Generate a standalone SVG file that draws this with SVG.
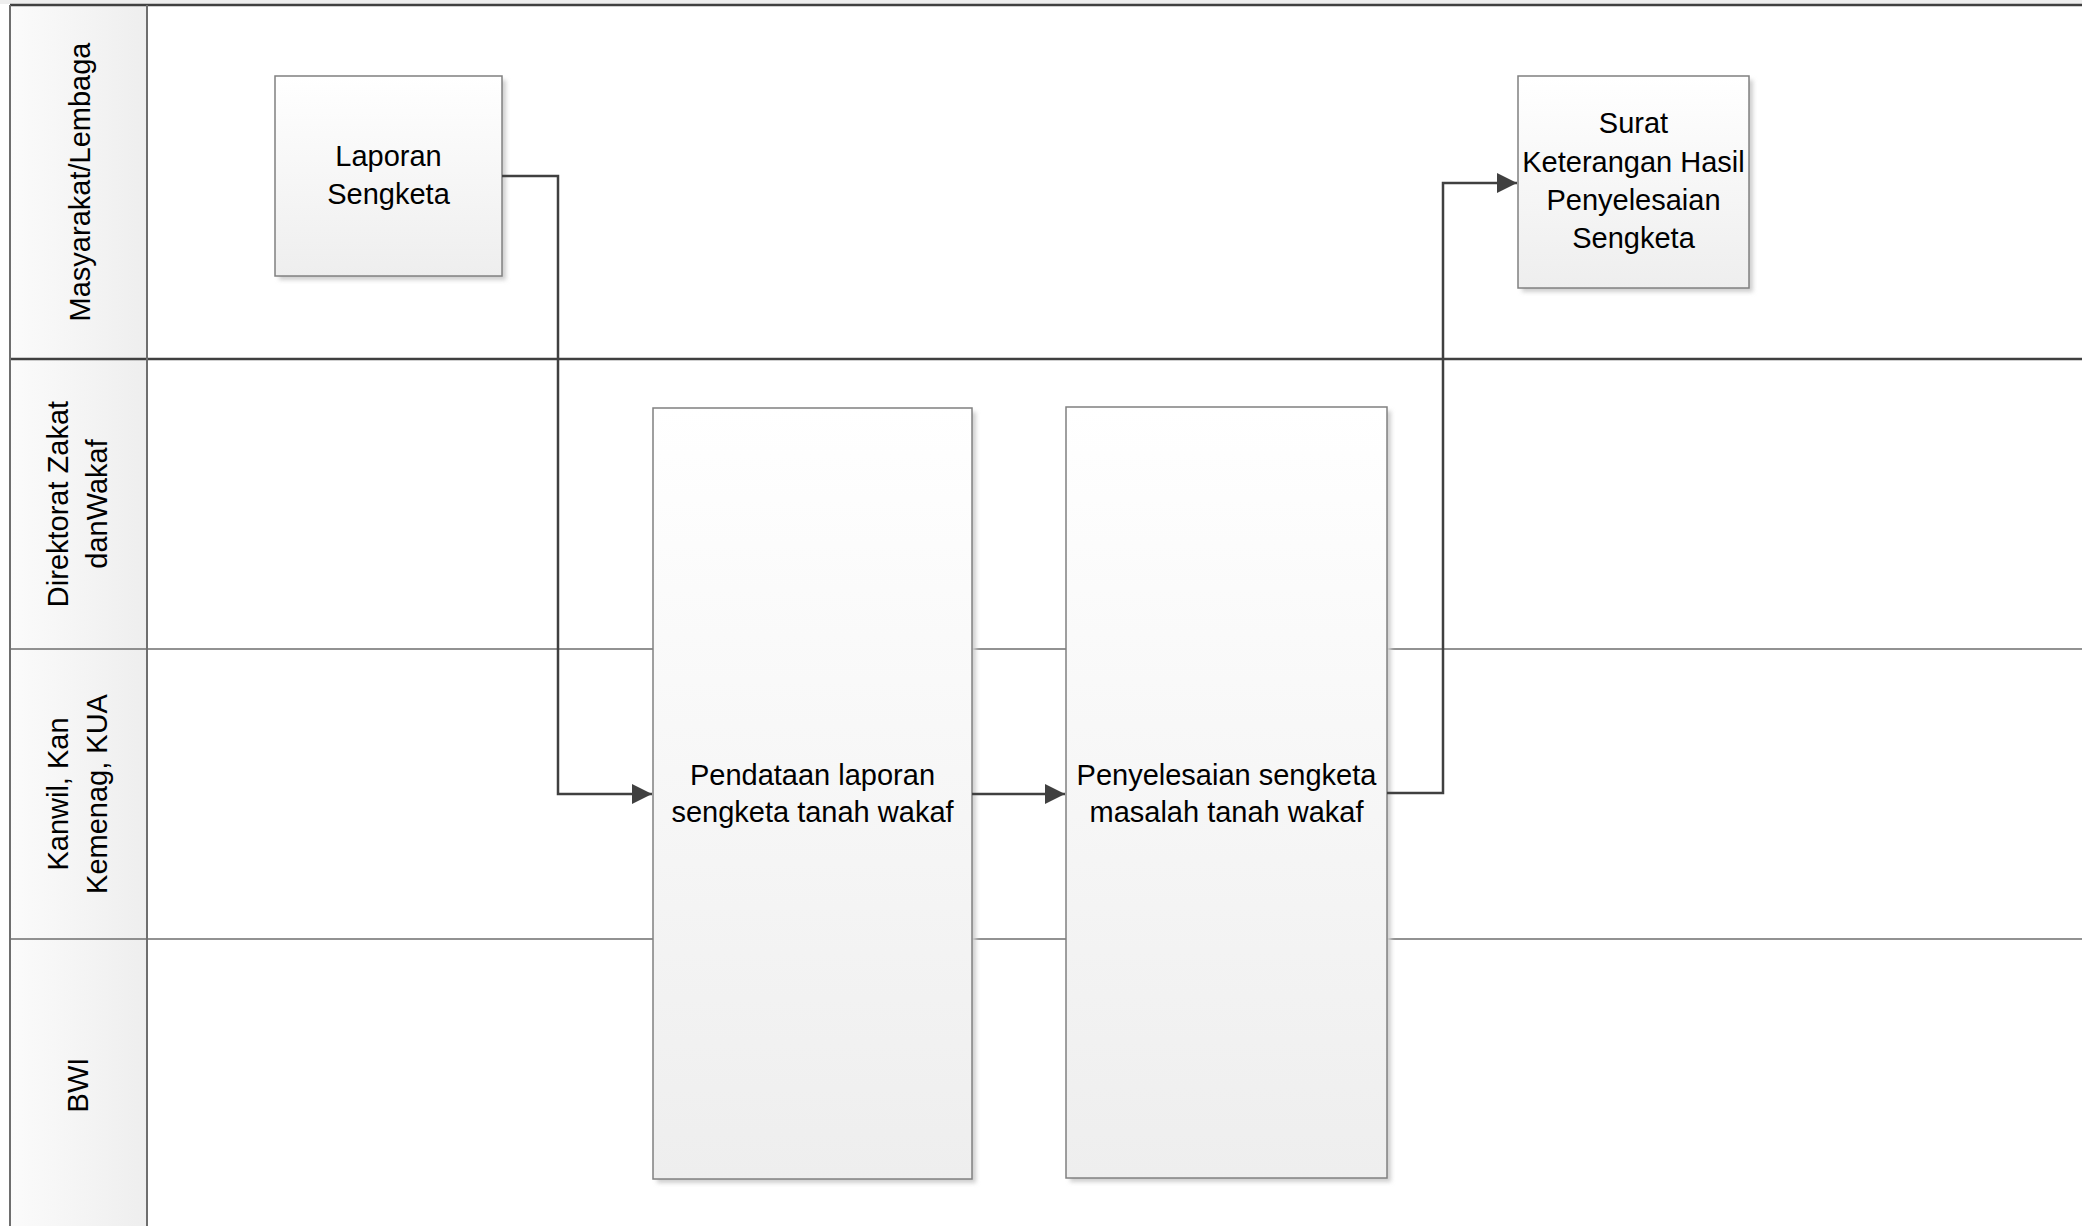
<svg xmlns="http://www.w3.org/2000/svg" width="2082" height="1226" viewBox="0 0 2082 1226">
<style>
  .lbl { font-family: "Liberation Sans", Arial, sans-serif; font-size: 29px; fill: #000; }
  .node { stroke: #808080; stroke-width: 1.5; fill: url(#nodeGrad); }
  .shadow { fill: #cfcfcf; filter: url(#blur); }
  .lane-major { stroke: #404040; stroke-width: 2.5; }
  .lane-minor { stroke: #6e6e6e; stroke-width: 1.3; }
  .conn { fill: none; stroke: #404040; stroke-width: 2.5; }
</style>
<defs>
  <linearGradient id="nodeGrad" x1="0" y1="0" x2="0" y2="1">
    <stop offset="0" stop-color="#ffffff"/>
    <stop offset="1" stop-color="#eeeeee"/>
  </linearGradient>
  <linearGradient id="headGrad" x1="0" y1="0" x2="1" y2="0">
    <stop offset="0" stop-color="#fbfbfb"/>
    <stop offset="1" stop-color="#eeeeee"/>
  </linearGradient>
  <filter id="blur" x="-10%" y="-10%" width="120%" height="120%">
    <feGaussianBlur stdDeviation="2"/>
  </filter>
  <marker id="arrow" viewBox="0 0 10 10" refX="10" refY="5" markerWidth="8" markerHeight="8" markerUnits="strokeWidth" orient="auto">
    <path d="M0,0 L10,5 L0,10 z" fill="#404040"/>
  </marker>
</defs>

<rect x="0" y="0" width="2082" height="1226" fill="#ffffff"/>
<rect x="0" y="0" width="2082" height="4" fill="#eeeeee"/>

<g id="pool">
  <rect x="10" y="5" width="137" height="1225" fill="url(#headGrad)"/>
  <line class="lane-minor" x1="10" y1="649" x2="2082" y2="649"/>
  <line class="lane-minor" x1="10" y1="939" x2="2082" y2="939"/>
  <line class="lane-major" x1="10" y1="5" x2="2082" y2="5"/>
  <line class="lane-major" x1="10" y1="359" x2="2082" y2="359"/>
  <line x1="10" y1="5" x2="10" y2="1226" stroke="#6e6e6e" stroke-width="2"/>
  <line x1="147" y1="5" x2="147" y2="1226" stroke="#6e6e6e" stroke-width="2"/>
</g>

<g id="lane-masyarakat">
  <text class="lbl" text-anchor="middle" transform="translate(0,182) rotate(-90)" x="0" y="90">Masyarakat/Lembaga</text>
</g>
<g id="lane-direktorat">
  <text class="lbl" text-anchor="middle" transform="translate(0,504) rotate(-90)"><tspan x="0" y="68">Direktorat Zakat</tspan><tspan x="0" y="107">danWakaf</tspan></text>
</g>
<g id="lane-kanwil">
  <text class="lbl" text-anchor="middle" transform="translate(0,794) rotate(-90)"><tspan x="0" y="68">Kanwil, Kan</tspan><tspan x="0" y="107">Kemenag, KUA</tspan></text>
</g>
<g id="lane-bwi">
  <text class="lbl" text-anchor="middle" transform="translate(0,1085) rotate(-90)" x="0" y="88">BWI</text>
</g>

<g id="node-laporan">
  <rect class="shadow" x="279" y="80" width="227" height="200"/>
  <rect class="node" x="275" y="76" width="227" height="200"/>
  <text class="lbl" text-anchor="middle"><tspan x="388.5" y="166">Laporan</tspan><tspan x="388.5" y="204">Sengketa</tspan></text>
</g>

<g id="node-pendataan">
  <rect class="shadow" x="657" y="412" width="319" height="771"/>
  <rect class="node" x="653" y="408" width="319" height="771"/>
  <text class="lbl" text-anchor="middle"><tspan x="812.5" y="785">Pendataan laporan</tspan><tspan x="812.5" y="822">sengketa tanah wakaf</tspan></text>
</g>

<g id="node-penyelesaian">
  <rect class="shadow" x="1070" y="411" width="321" height="771"/>
  <rect class="node" x="1066" y="407" width="321" height="771"/>
  <text class="lbl" text-anchor="middle"><tspan x="1226.5" y="785">Penyelesaian sengketa</tspan><tspan x="1226.5" y="822">masalah tanah wakaf</tspan></text>
</g>

<g id="node-surat">
  <rect class="shadow" x="1522" y="80" width="231" height="212"/>
  <rect class="node" x="1518" y="76" width="231" height="212"/>
  <text class="lbl" text-anchor="middle"><tspan x="1633.5" y="133">Surat</tspan><tspan x="1633.5" y="172">Keterangan Hasil</tspan><tspan x="1633.5" y="210">Penyelesaian</tspan><tspan x="1633.5" y="248">Sengketa</tspan></text>
</g>

<g id="connectors">
  <path class="conn" d="M502,176 H558 V794 H652" marker-end="url(#arrow)"/>
  <path class="conn" d="M972,794 H1065" marker-end="url(#arrow)"/>
  <path class="conn" d="M1387,793 H1443 V183 H1517" marker-end="url(#arrow)"/>
</g>
</svg>
